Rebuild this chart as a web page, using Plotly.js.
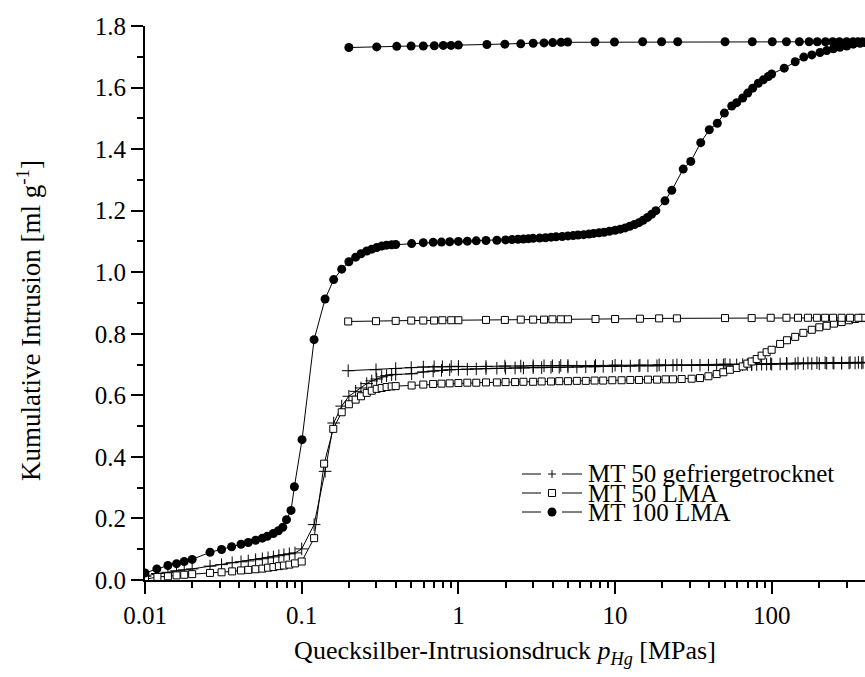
<!DOCTYPE html>
<html>
<head>
<meta charset="utf-8">
<script src="https://cdn.plot.ly/plotly-3.0.1.min.js"></script>
<style>html,body{margin:0;padding:0;background:#fff;overflow:hidden}#chart{width:865px;height:677px}</style>
</head>
<body>
<div id="chart"></div>
<script>
// ---- Data ----
const seriesNames = ["MT 50 gefriergetrocknet", "MT 50 LMA", "MT 100 LMA"];

// MT 100 LMA – intrusion
const p100In = [0.01,0.0119,0.014,0.0159,0.0178,0.02,0.026,0.0308,0.0357,0.041,
  0.0456,0.0508,0.0561,0.0603,0.0659,0.071,0.0757,0.080,0.0855,0.0898,
  0.1005,0.120,0.141,0.160,0.180,0.200,0.221,0.239,0.260,0.280,
  0.301,0.324,0.348,0.375,0.398,0.503,0.597,0.69,0.78,0.88,
  1.0,1.14,1.3,1.5,1.76,2.0,2.2,2.4,2.6,2.8,
  3.0,3.3,3.6,3.9,4.2,4.6,5.0,5.4,5.8,6.3,
  6.8,7.3,7.9,8.5,9.2,10.0,10.8,11.6,12.4,13.3,
  14.2,15.1,16.1,17.1,18.2,20.8,23.0,27.2,30.4,35.2,
  39.9,44.9,49.8,55.5,59.7,65.2,70.2,75.5,82.0,88.3,
  95.0,99.8,120,141,160,180,203,224,247,272,
  301,331,366,393];
const v100In = [0.023,0.036,0.047,0.053,0.060,0.067,0.090,0.099,0.108,0.116,
  0.122,0.129,0.136,0.142,0.151,0.160,0.171,0.196,0.226,0.303,
  0.456,0.781,0.913,0.976,1.010,1.034,1.049,1.060,1.069,1.075,
  1.080,1.085,1.088,1.089,1.090,1.093,1.096,1.097,1.098,1.099,
  1.100,1.101,1.102,1.103,1.104,1.105,1.106,1.107,1.108,1.109,
  1.110,1.111,1.112,1.114,1.115,1.116,1.118,1.119,1.121,1.122,
  1.124,1.126,1.128,1.130,1.133,1.136,1.140,1.144,1.149,1.155,
  1.161,1.169,1.178,1.188,1.200,1.232,1.266,1.335,1.360,1.421,
  1.463,1.484,1.517,1.540,1.551,1.566,1.582,1.598,1.614,1.625,
  1.636,1.644,1.663,1.684,1.699,1.706,1.714,1.720,1.726,1.731,
  1.735,1.741,1.744,1.746];
// MT 100 LMA – extrusion
const p100Ex = [380,355,330,300,270,245,220,195,173,150,124,100.7,75.1,50.3,25.1,19.8,15.0,
  9.9,7.44,4.98,4.52,4.0,3.52,3.0,2.5,1.98,1.52,1.0,0.897,0.801,0.702,0.597,0.499,0.404,0.301,0.200];
const v100Ex = [1.749,1.749,1.749,1.749,1.749,1.749,1.749,1.749,1.749,1.749,1.749,1.749,1.749,1.749,1.749,1.749,1.749,
  1.748,1.748,1.748,1.747,1.746,1.745,1.744,1.742,1.741,1.740,1.738,1.737,1.737,1.736,1.735,1.735,1.734,1.732,1.730];

// MT 50 LMA – intrusion
const p50LIn = [0.01,0.012,0.014,0.0159,0.0178,0.020,0.026,0.0308,0.036,0.041,
  0.0456,0.0508,0.0561,0.061,0.066,0.0715,0.077,0.0834,0.0906,0.100,
  0.120,0.139,0.159,0.180,0.200,0.221,0.239,0.260,0.280,0.301,
  0.324,0.348,0.375,0.398,0.503,0.597,0.69,0.78,0.88,1.0,
  1.14,1.3,1.5,1.76,2.0,2.3,2.6,3.0,3.4,3.9,
  4.4,5.0,5.7,6.5,7.4,8.4,9.6,11,12.5,14.2,
  16.2,18.5,21,23.4,26.6,30.8,34.8,39.4,44.5,49.1,
  54.1,59.7,65.2,69.8,74.4,80.1,86.1,92.7,99.8,113,
  125,141,159,180,201,224,249,279,311,340,
  375];
const v50LIn = [0.002,0.010,0.012,0.015,0.017,0.019,0.023,0.025,0.028,0.031,
  0.033,0.035,0.037,0.040,0.042,0.045,0.047,0.050,0.054,0.060,
  0.136,0.378,0.491,0.545,0.571,0.586,0.597,0.608,0.615,0.621,
  0.624,0.627,0.629,0.630,0.632,0.635,0.637,0.638,0.639,0.640,
  0.641,0.641,0.642,0.642,0.643,0.643,0.644,0.644,0.645,0.645,
  0.646,0.646,0.647,0.647,0.648,0.648,0.649,0.649,0.650,0.650,
  0.651,0.651,0.652,0.652,0.653,0.654,0.656,0.662,0.669,0.675,
  0.683,0.689,0.694,0.703,0.710,0.718,0.729,0.740,0.748,0.767,
  0.779,0.790,0.803,0.813,0.821,0.826,0.833,0.838,0.844,0.848,
  0.851];
// MT 50 LMA – extrusion
const p50LEx = [382,357,316,279,246,219,194,170,147,124,98.4,74.4,50.3,24.8,19.1,14.4,10.0,7.5,
  5.0,4.5,3.98,3.52,3.0,2.5,1.98,1.5,1.0,0.90,0.79,0.70,0.597,0.50,0.398,0.298,0.198];
const v50LEx = [0.852,0.852,0.852,0.852,0.852,0.852,0.852,0.852,0.852,0.852,0.852,0.851,0.851,0.850,0.850,0.849,0.848,0.848,
  0.847,0.847,0.847,0.846,0.846,0.846,0.845,0.845,0.844,0.844,0.844,0.843,0.843,0.843,0.842,0.841,0.840];

// MT 50 gefriergetrocknet – intrusion
const p50GIn = [0.01,0.012,0.014,0.0159,0.0178,0.020,0.026,0.0308,0.036,0.041,
  0.0456,0.0508,0.0561,0.061,0.066,0.0715,0.077,0.0834,0.0906,0.100,
  0.120,0.141,0.160,0.180,0.200,0.221,0.239,0.260,0.280,0.301,
  0.324,0.348,0.375,0.398,0.503,0.597,0.69,0.78,0.88,1.0,
  1.14,1.3,1.5,1.76,2.0,2.3,2.6,3.0,3.4,3.9,
  4.4,5.0,5.7,6.5,7.4,8.4,9.6,11,12.5,14.2,
  16.2,18.5,21,23.4,26.6,30.8,34.8,39.4,44.5,49.1,
  54.1,59.7,65.2,69.8,74.4,80.1,86.1,92.7,99.8,113,
  125,141,159,180,201,224,249,279,311,340,
  375];
const v50GIn = [0.012,0.021,0.025,0.030,0.033,0.036,0.045,0.050,0.056,0.059,
  0.062,0.066,0.069,0.072,0.075,0.079,0.082,0.085,0.088,0.101,
  0.180,0.353,0.510,0.565,0.597,0.613,0.624,0.638,0.647,0.653,
  0.660,0.664,0.667,0.668,0.670,0.676,0.679,0.681,0.683,0.684,
  0.685,0.686,0.687,0.688,0.688,0.689,0.689,0.690,0.690,0.691,
  0.691,0.692,0.692,0.693,0.693,0.694,0.694,0.695,0.695,0.696,
  0.696,0.696,0.697,0.697,0.697,0.697,0.698,0.698,0.698,0.699,
  0.699,0.699,0.700,0.700,0.700,0.700,0.701,0.701,0.701,0.702,
  0.702,0.702,0.703,0.703,0.703,0.704,0.704,0.704,0.705,0.705,
  0.705];
// MT 50 gefriergetrocknet – extrusion
const p50GEx = [382,357,316,279,246,219,194,170,147,124,98.4,74.4,50.3,24.8,19.1,14.4,10.0,7.5,
  5.0,4.5,3.98,3.52,3.0,2.5,1.98,1.5,1.0,0.90,0.79,0.70,0.597,0.50,0.398,0.298,0.198];
const v50GEx = [0.707,0.707,0.707,0.706,0.706,0.706,0.706,0.705,0.705,0.704,0.703,0.702,0.701,0.699,0.699,0.698,0.698,0.697,
  0.697,0.697,0.696,0.696,0.696,0.695,0.695,0.694,0.694,0.694,0.693,0.693,0.692,0.690,0.687,0.683,0.680];

const xTickVals = [0.01, 0.1, 1, 10, 100];
const xTickText = ["0.01", "0.1", "1", "10", "100"];
const xTitle = 'Quecksilber-Intrusionsdruck <i>p</i><sub><i>Hg</i></sub> [MPas]';
const yTitle = 'Kumulative Intrusion [ml g<sup>-1</sup>]';

// ---- Layout geometry ----
const W = 865, H = 677;
const ML = 145, MR = 0, MT = 26, MB = 97;
const PW = W - ML - MR, PH = H - MT - MB;
const FONT = "Liberation Serif";
const xLogMax = -2 + PW / 156.7;

const lineStyle = {color: 'black', width: 1};
const traces = [
  {
    name: seriesNames[0], type: 'scatter', mode: 'lines+markers',
    x: p50GIn.concat(p50GEx), y: v50GIn.concat(v50GEx),
    line: lineStyle,
    marker: {symbol: 'cross-thin', size: 9, color: 'black', line: {width: 1, color: 'black'}},
    showlegend: false
  },
  {
    name: seriesNames[1], type: 'scatter', mode: 'lines+markers',
    x: p50LIn.concat(p50LEx), y: v50LIn.concat(v50LEx),
    line: lineStyle,
    marker: {symbol: 'square', size: 7, color: 'white', line: {width: 1, color: 'black'}},
    showlegend: false
  },
  {
    name: seriesNames[2], type: 'scatter', mode: 'lines+markers',
    x: p100In.concat(p100Ex), y: v100In.concat(v100Ex),
    line: lineStyle,
    marker: {symbol: 'circle', size: 9, color: 'black', line: {width: 0}},
    showlegend: false
  }
];

// ---- Custom compact legend (paper coordinates) ----
const px2x = px => (px - ML) / PW;
const py2y = py => (MT + PH - py) / PH;
const legRowsY = [474, 493, 512];
const shapes = [];
const annotations = [];
legRowsY.forEach((py, i) => {
  const y = py2y(py);
  shapes.push({type: 'line', xref: 'paper', yref: 'paper', x0: px2x(522), x1: px2x(541), y0: y, y1: y, line: {color: 'black', width: 1}});
  shapes.push({type: 'line', xref: 'paper', yref: 'paper', x0: px2x(562), x1: px2x(582), y0: y, y1: y, line: {color: 'black', width: 1}});
  const base = {xref: 'paper', yref: 'paper', xsizemode: 'pixel', ysizemode: 'pixel', xanchor: px2x(552), yanchor: y};
  if (i === 0) {
    shapes.push(Object.assign({type: 'line', x0: -4, x1: 4, y0: 0, y1: 0, line: {color: 'black', width: 1}}, base));
    shapes.push(Object.assign({type: 'line', x0: 0, x1: 0, y0: -4, y1: 4, line: {color: 'black', width: 1}}, base));
  } else if (i === 1) {
    shapes.push(Object.assign({type: 'rect', x0: -3.5, x1: 3.5, y0: -3.5, y1: 3.5, fillcolor: 'white', line: {color: 'black', width: 1}}, base));
  } else {
    shapes.push(Object.assign({type: 'circle', x0: -4.5, x1: 4.5, y0: -4.5, y1: 4.5, fillcolor: 'black', line: {color: 'black', width: 0}}, base));
  }
  annotations.push({
    xref: 'paper', yref: 'paper', x: px2x(587), y: y, xanchor: 'left', yanchor: 'middle',
    text: seriesNames[i], showarrow: false, borderpad: 0,
    font: {family: FONT, size: 25, color: 'black'}
  });
});
// y-axis title (placed as rotated text to match the reference's offset)
annotations.push({
  xref: 'paper', yref: 'paper', x: px2x(29), y: py2y(321), xanchor: 'center', yanchor: 'middle',
  textangle: -90, text: yTitle, showarrow: false, borderpad: 0,
  font: {family: FONT, size: 27, color: 'black'}
});

const layout = {
  width: W, height: H,
  margin: {l: ML, r: MR, t: MT, b: MB, pad: 0},
  paper_bgcolor: 'white', plot_bgcolor: 'white',
  font: {family: FONT, size: 25, color: 'black'},
  showlegend: false,
  xaxis: {
    type: 'log', range: [-2, xLogMax], automargin: false,
    showgrid: false, zeroline: false,
    showline: true, linecolor: 'black', linewidth: 2, mirror: false,
    ticks: 'outside', ticklen: 12, tickwidth: 2, tickcolor: 'black',
    tickmode: 'array', tickvals: xTickVals, ticktext: xTickText,
    tickfont: {family: FONT, size: 25, color: 'black'},
    minor: {ticks: 'outside', ticklen: 6, tickwidth: 2, tickcolor: 'black', dtick: 'D1', showgrid: false},
    title: {text: xTitle, standoff: 13, font: {family: FONT, size: 26, color: 'black'}}
  },
  yaxis: {
    range: [0, 1.8], automargin: false,
    showgrid: false, zeroline: false,
    showline: true, linecolor: 'black', linewidth: 2, mirror: false,
    ticks: 'outside', ticklen: 12, tickwidth: 2, tickcolor: 'black',
    tickmode: 'linear', tick0: 0, dtick: 0.2, tickformat: '.1f',
    tickfont: {family: FONT, size: 25, color: 'black'},
    minor: {ticks: 'outside', ticklen: 6, tickwidth: 2, tickcolor: 'black', dtick: 0.1, showgrid: false}
  },
  shapes: shapes,
  annotations: annotations
};

Plotly.newPlot('chart', traces, layout, {displayModeBar: false, staticPlot: true});
</script>
</body>
</html>
